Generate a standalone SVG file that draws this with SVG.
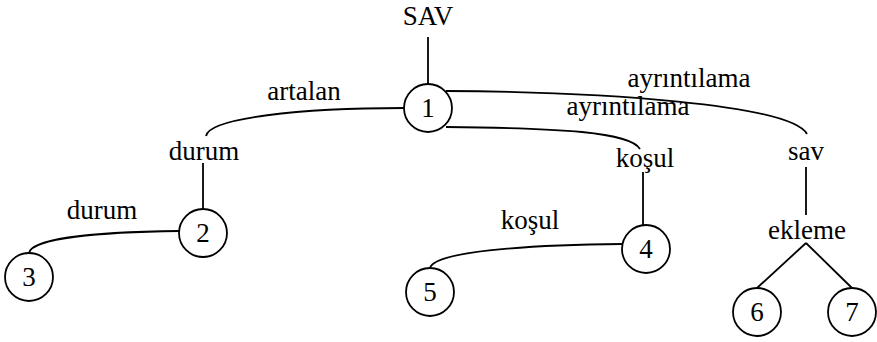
<svg xmlns="http://www.w3.org/2000/svg" width="877" height="342" viewBox="0 0 877 342">
<style>
text{font-family:Liberation Serif,Times New Roman,Times,DejaVu Serif,serif;font-size:27px;fill:#000;text-anchor:middle}
.n circle{fill:#fff;stroke:#000;stroke-width:1.8}
#edges path,#edges line{fill:none;stroke:#000;stroke-width:1.8}
</style>
<rect width="877" height="342" fill="#fff"/>
<g id="edges">
<line x1="428" y1="37" x2="428" y2="84"/>
<path d="M206,136 C209,118 300,108 404,108"/>
<line x1="203" y1="163" x2="203" y2="209"/>
<path d="M29,253 C32,238 100,232 179,231"/>
<path d="M446,91 C600,92 790,104 807,134"/>
<path d="M446,127 C560,128 630,132 640,149"/>
<line x1="643" y1="172" x2="643" y2="225"/>
<path d="M430,268 C434,252 520,245 622,244"/>
<line x1="806" y1="167" x2="806" y2="215"/>
<line x1="806" y1="243" x2="757" y2="288"/>
<line x1="806" y1="243" x2="852" y2="288"/>
</g>
<g id="labels">
<text x="428" y="25">SAV</text>
<text x="304" y="100">artalan</text>
<text x="204" y="160">durum</text>
<text x="102" y="219">durum</text>
<text x="689" y="87">ayrıntılama</text>
<text x="628" y="115">ayrıntılama</text>
<text x="645" y="167">koşul</text>
<text x="530" y="229">koşul</text>
<text x="806" y="160">sav</text>
<text x="807" y="239">ekleme</text>
</g>
<g id="node1" class="n"><circle cx="428" cy="108" r="24"/><text x="428" y="117">1</text></g>
<g id="node2" class="n"><circle cx="203" cy="233" r="24"/><text x="203" y="242">2</text></g>
<g id="node3" class="n"><circle cx="29" cy="277" r="24"/><text x="29" y="286">3</text></g>
<g id="node4" class="n"><circle cx="646" cy="249" r="24"/><text x="646" y="258">4</text></g>
<g id="node5" class="n"><circle cx="430" cy="292" r="24"/><text x="430" y="301">5</text></g>
<g id="node6" class="n"><circle cx="757" cy="312" r="24"/><text x="757" y="321">6</text></g>
<g id="node7" class="n"><circle cx="852" cy="312" r="24"/><text x="852" y="321">7</text></g>
</svg>
